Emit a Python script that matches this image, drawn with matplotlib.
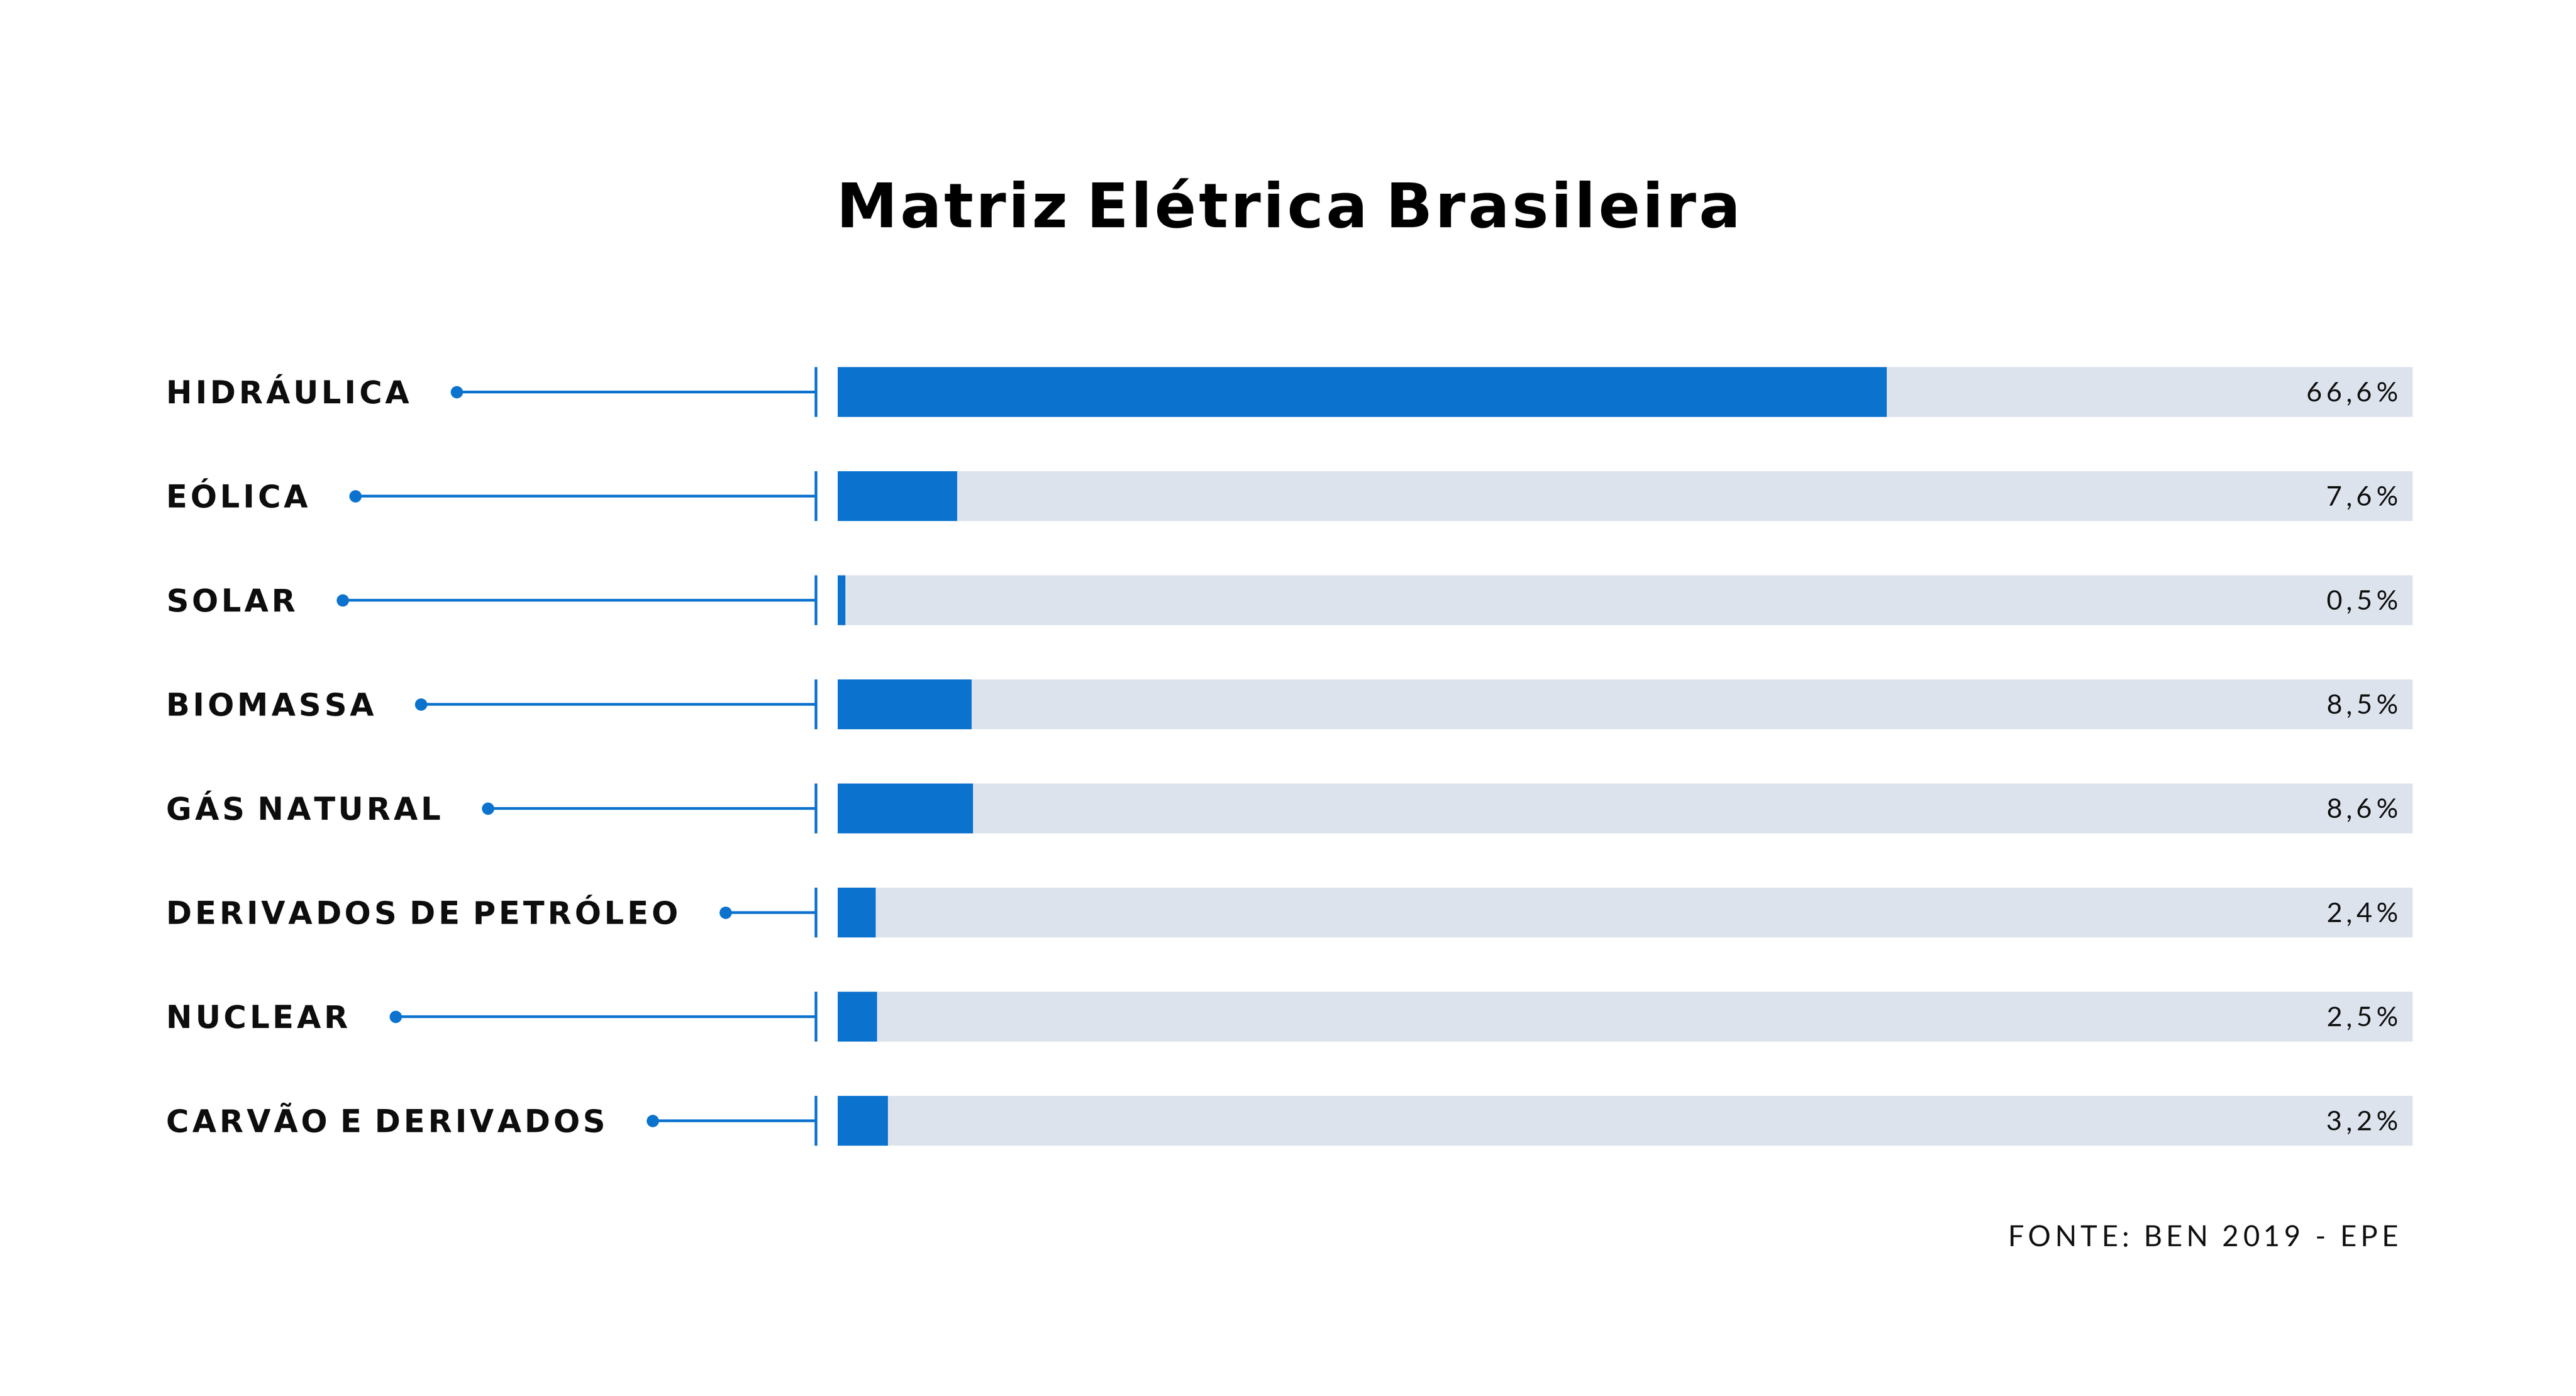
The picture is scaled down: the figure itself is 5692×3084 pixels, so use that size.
import numpy as np
import matplotlib.pyplot as plt
from matplotlib.transforms import IdentityTransform
from matplotlib.lines import Line2D

#%% dados
categorias = ['HIDRÁULICA', 'EÓLICA', 'SOLAR', 'BIOMASSA', 'GÁS NATURAL',
              'DERIVADOS DE PETRÓLEO', 'NUCLEAR', 'CARVÃO E DERIVADOS']
valores = [66.6, 7.6, 0.5, 8.5, 8.6, 2.4, 2.5, 3.2]
escala_max = 100
titulo = 'Matriz Elétrica Brasileira'
fonte = 'FONTE: BEN 2019 - EPE'

#%% estilo / layout (pixels)
W, H, DPI = 5692, 3084, 100
AZUL = '#0b73ce'
CINZA = '#dde3ec'
bar_x0, bar_x1 = 1851, 5331
row_top, row_step, bar_h = 866, 230, 110
tick_x = 1803
label_x = 367
val_right = 5298

fig = plt.figure(figsize=(W / DPI, H / DPI), dpi=DPI)
fig.patch.set_facecolor('white')
ident = IdentityTransform()
r = fig.canvas.get_renderer()


def px(pt):
    return pt * DPI / 72.0


def tracked(x, y, s, track, ha='left', size=40, **kw):
    # texto com espaçamento entre letras (matplotlib nao tem letter-spacing)
    arts, ws = [], []
    for ch in s:
        t = fig.text(0, y, ch, transform=ident, va='baseline', ha='left',
                     size=size, **kw)
        if ch == ' ':
            w = px(size) * 0.22
        else:
            w = t.get_window_extent(r).width
        arts.append(t)
        ws.append(w)
    total = sum(ws) + track * (len(s) - 1)
    if ha == 'right':
        x0 = x - total
    elif ha == 'center':
        x0 = x - total / 2
    else:
        x0 = x
    for t, w in zip(arts, ws):
        t.set_x(x0)
        x0 += w + track
    return x0 - track


#%% barras
n = len(categorias)
ax_top = row_top - row_step / 2
ax_bot = row_top + (n - 1) * row_step + row_step / 2
ax = fig.add_axes([bar_x0 / W, 1 - ax_bot / H, (bar_x1 - bar_x0) / W, (ax_bot - ax_top) / H])
ax.set_xlim(0, escala_max)
ax.set_ylim(n - 0.5, -0.5)
ax.axis('off')
y = np.arange(n)
hh = bar_h / row_step
ax.barh(y, [escala_max] * n, height=hh, color=CINZA, linewidth=0)
ax.barh(y, valores, height=hh, color=AZUL, linewidth=0)

#%% rotulos, conectores e valores
lab_pt, val_pt = 49.4, 43.2
lab_cap = 0.729 * px(lab_pt)
val_cap = 0.7165 * px(val_pt)
for i, (cat, v) in enumerate(zip(categorias, valores)):
    yc = ax.transData.transform((0, i))[1]
    end = tracked(label_x, yc - lab_cap / 2, cat, 7, size=lab_pt,
                  family='DejaVu Sans', weight='bold', color='#0d0d0d')
    dot_x = end + 105
    fig.add_artist(Line2D([dot_x, tick_x], [yc, yc], transform=ident,
                          lw=4.3, color=AZUL, solid_capstyle='butt'))
    fig.add_artist(Line2D([dot_x], [yc], transform=ident, marker='o',
                          ms=18.5, color=AZUL, lw=0))
    fig.add_artist(Line2D([tick_x, tick_x], [yc - bar_h / 2, yc + bar_h / 2],
                          transform=ident, lw=4.3, color=AZUL, solid_capstyle='butt'))
    rot = f'{v:.1f}'.replace('.', ',') + '%'
    tracked(val_right, yc - val_cap / 2, rot, 9, ha='right', size=val_pt,
            family='Lato', weight='normal', color='#111111')

#%% titulo e fonte
tracked(W / 2, H - 502, titulo, 5.5, ha='center', size=97.8,
        family='DejaVu Sans', weight='bold', color='black')
tracked(val_right, H - 2753, fonte, 9, ha='right', size=45.2,
        family='Lato', weight='normal', color='#111111')

fig.savefig('out.png', dpi=DPI)
